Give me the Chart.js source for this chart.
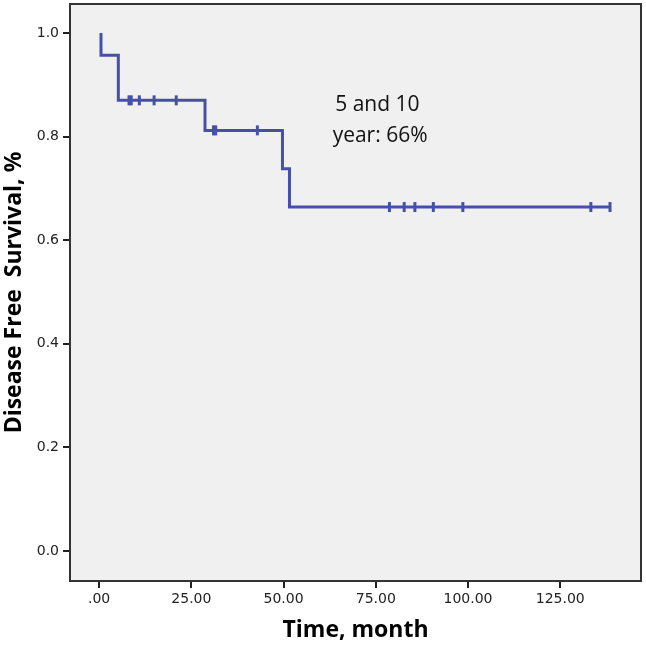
<!DOCTYPE html>
<html>
<head>
<meta charset="utf-8">
<script src="https://cdn.jsdelivr.net/npm/chart.js@4.4.0/dist/chart.umd.min.js"></script>
<style>
  html, body { margin: 0; padding: 0; background: #fff; }
</style>
</head>
<body>
<canvas id="chart" width="646" height="645"></canvas>
<script>
// Kaplan-Meier steps (time in months, survival proportion)
const stepTimes = [0.5, 0.5, 5.2, 28.7, 49.7, 51.6, 138.5];
const stepValues = [1.0, 0.957, 0.870, 0.812, 0.738, 0.664, 0.664];

// censored observations
const censorTimes = [8.1, 8.7, 10.9, 14.9, 20.9, 31.0, 31.6, 42.9, 78.7, 82.7, 85.6, 90.6, 98.6, 133.3, 138.5];
const censorValues = [0.870, 0.870, 0.870, 0.870, 0.870, 0.812, 0.812, 0.812, 0.664, 0.664, 0.664, 0.664, 0.664, 0.664, 0.664];

const xTicks = [0, 25, 50, 75, 100, 125];
const yTicks = [0, 0.2, 0.4, 0.6, 0.8, 1.0];

const noteLines = ['5 and 10', 'year: 66%'];
const noteTimes = [64.0, 63.3];
const noteValues = [0.861, 0.801];

const lineColor = '#4650a8';
const tickFont = { family: 'DejaVu Sans', size: 14 };
const titleFont = { family: 'Open Sans', size: 23, weight: 'bold' };

const plotFrame = {
  id: 'plotFrame',
  beforeDraw: (chart) => {
    const { ctx, chartArea: a } = chart;
    ctx.save();
    ctx.fillStyle = '#f0f0f0';
    ctx.fillRect(a.left, a.top, a.right - a.left, a.bottom - a.top);
    ctx.restore();
  },
  afterDraw: (chart) => {
    const { ctx, chartArea: a, scales } = chart;
    ctx.save();
    ctx.strokeStyle = '#333';
    ctx.lineWidth = 2;
    ctx.strokeRect(a.left, a.top, a.right - a.left, a.bottom - a.top);

    ctx.fillStyle = '#111';
    ctx.font = '21px "Open Sans"';
    ctx.textBaseline = 'middle';
    ctx.textAlign = 'left';
    noteLines.forEach((line, i) => {
      ctx.fillText(line, scales.x.getPixelForValue(noteTimes[i]), scales.y.getPixelForValue(noteValues[i]));
    });
    ctx.restore();
  },
};

const axisGrid = {
  drawOnChartArea: false,
  drawTicks: true,
  tickLength: 7,
  color: '#222',
  lineWidth: 2,
};

const noScalePadding = (s) => {
  s.paddingTop = 0;
  s.paddingBottom = 0;
  s.paddingLeft = 0;
  s.paddingRight = 0;
};

new Chart(document.getElementById('chart'), {
  type: 'line',
  data: {
    datasets: [
      {
        data: stepTimes.map((t, i) => ({ x: t, y: stepValues[i] })),
        stepped: 'before',
        borderColor: lineColor,
        borderWidth: 3,
        pointRadius: 0,
        fill: false,
      },
      {
        data: censorTimes.map((t, i) => ({ x: t, y: censorValues[i] })),
        showLine: false,
        pointStyle: 'line',
        rotation: 90,
        pointRadius: 5,
        pointBorderWidth: 3,
        pointBorderColor: lineColor,
        borderColor: lineColor,
      },
    ],
  },
  options: {
    responsive: false,
    animation: false,
    layout: { autoPadding: false, padding: { top: 4, right: 5, left: 0, bottom: 0 } },
    plugins: {
      legend: { display: false },
      tooltip: { enabled: false },
    },
    scales: {
      x: {
        type: 'linear',
        min: -7.9,
        max: 146.9,
        afterBuildTicks: (s) => { s.ticks = xTicks.map((v) => ({ value: v })); },
        afterFit: (s) => { s.height = 64; noScalePadding(s); },
        grid: axisGrid,
        border: { display: false },
        ticks: {
          font: tickFont,
          color: '#222',
          padding: 3,
          maxRotation: 0,
          autoSkip: false,
          callback: (v) => (v === 0 ? '.00' : v.toFixed(2)),
        },
        title: {
          display: true,
          text: 'Time, month',
          font: titleFont,
          color: '#000',
          padding: { top: 0, bottom: 1 },
        },
      },
      y: {
        type: 'linear',
        min: -0.058,
        max: 1.056,
        afterBuildTicks: (s) => { s.ticks = yTicks.map((v) => ({ value: v })); },
        afterFit: (s) => { s.width = 70; noScalePadding(s); },
        grid: axisGrid,
        border: { display: false },
        ticks: {
          font: tickFont,
          color: '#222',
          padding: 4,
          autoSkip: false,
          callback: (v) => v.toFixed(1),
        },
        title: {
          display: true,
          text: 'Disease Free  Survival, %',
          font: titleFont,
          color: '#000',
          padding: { top: 1, bottom: 0 },
        },
      },
    },
  },
  plugins: [plotFrame],
});
</script>
</body>
</html>
